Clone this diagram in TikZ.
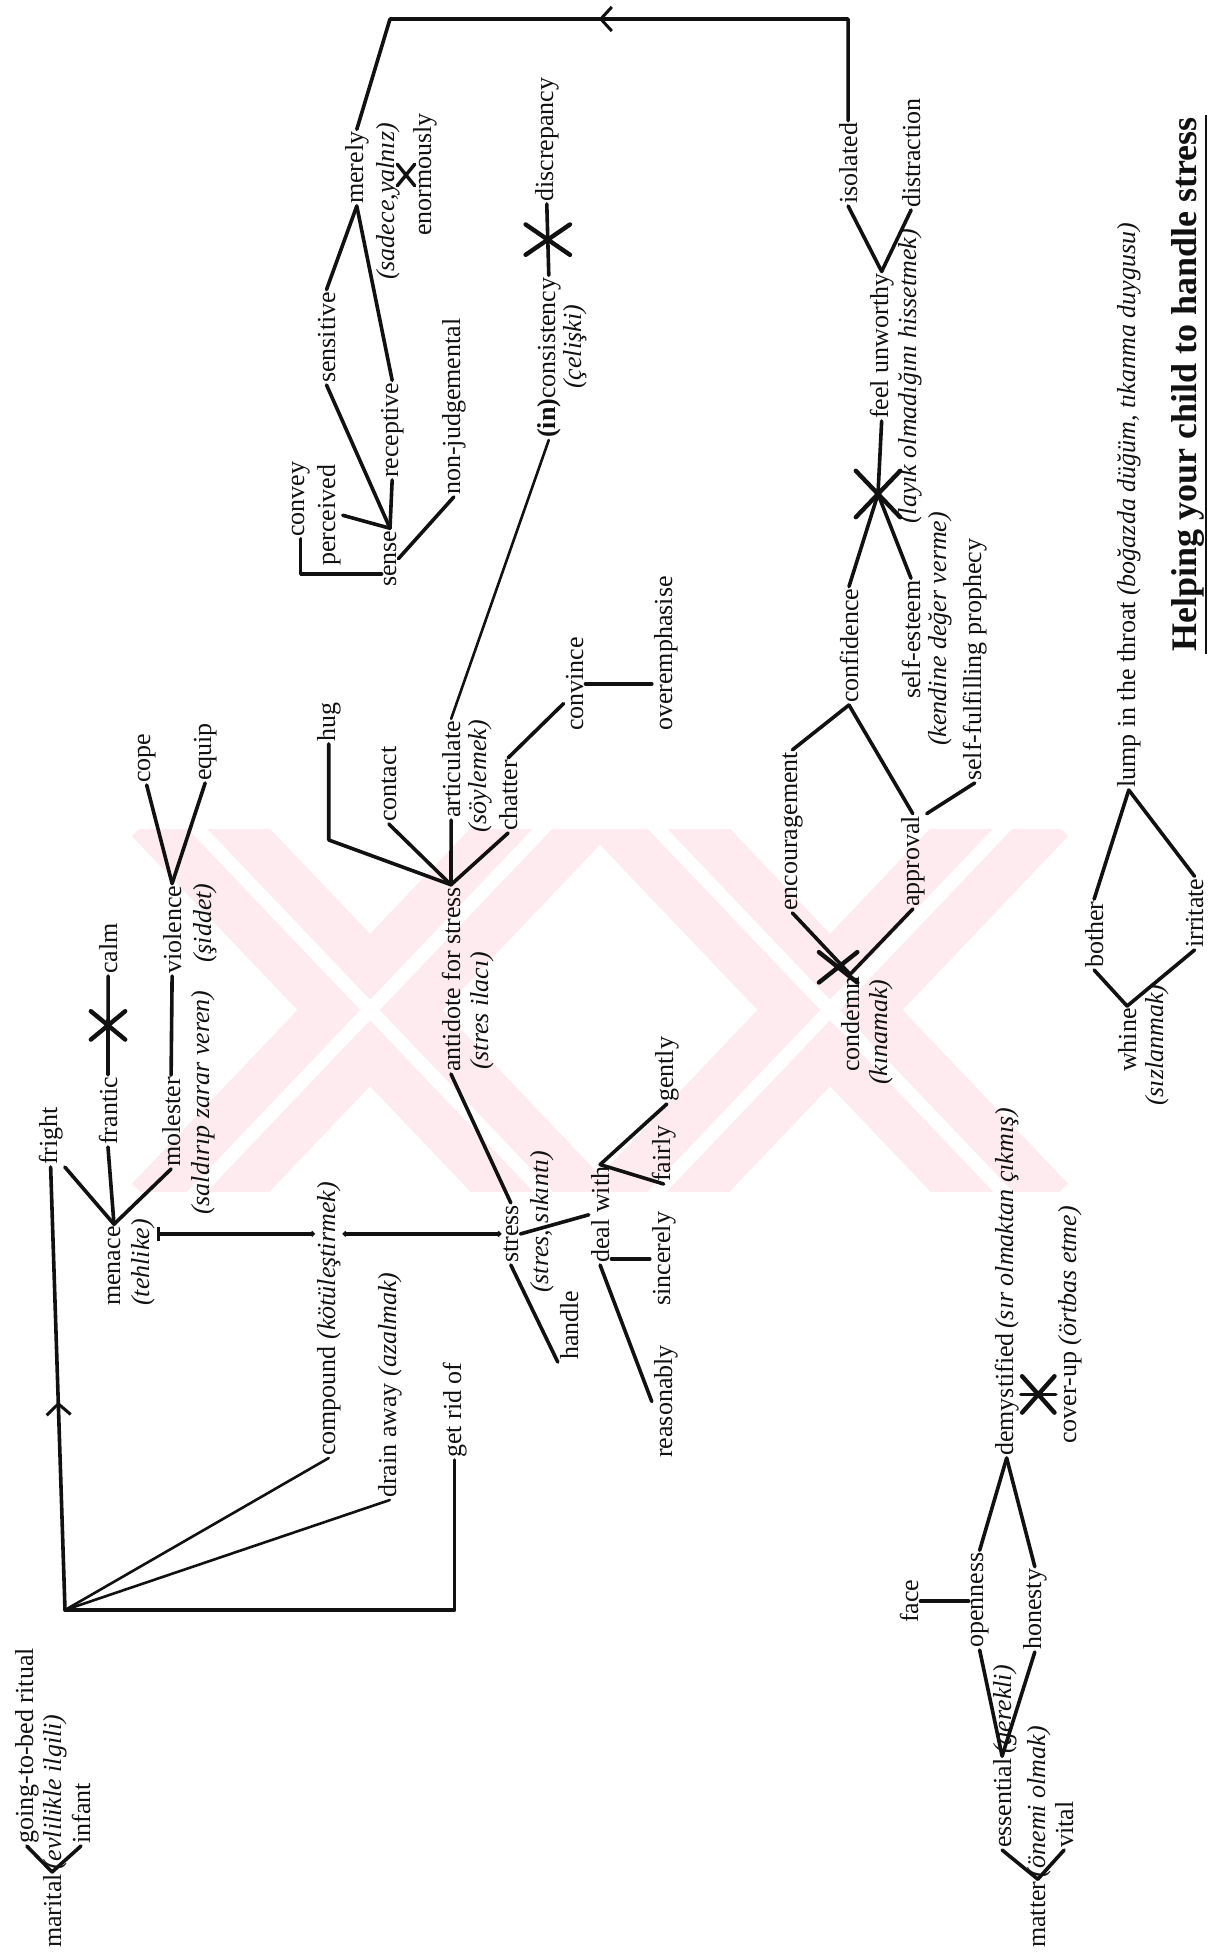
\documentclass[tikz,border=0pt]{standalone}
\usepackage{fontspec}
\setmainfont{Liberation Serif}
\usetikzlibrary{arrows.meta,positioning,calc,shapes.misc,decorations.markings}
\definecolor{ink}{HTML}{111111}
\definecolor{wmpink}{HTML}{FDEBEF}
\tikzset{
  lbl/.style={rotate=90,anchor=base west,inner sep=2pt,text=ink,
    font=\fontsize{26}{30}\selectfont},
  gloss/.style={lbl,font=\fontsize{26}{30}\selectfont\itshape},
  link/.style={draw=ink,line width=3.6pt,line cap=round,line join=round},
  thinlink/.style={link,line width=2.6pt},
  negx/.style={draw=ink,cross out,line width=4.4pt,inner sep=0pt,line cap=round},
  flowmark/.style={postaction={decorate},decoration={markings,
    mark=at position #1 with {\arrow{Straight Barb[length=11pt,width=24pt,line width=3pt]}}}},
}

\begin{document}
\begin{tikzpicture}[x=1pt,y=-1pt]
  \fill[white] (0,0) rectangle (1208,1953);
  \useasboundingbox (0,0) rectangle (1208,1953);
  % --- watermark ---
  \begin{scope}
    \clip (118,829) rectangle (1097,1191);
    \foreach \cx in {370,830} {
      \draw[wmpink,line width=105pt] (\cx-200,800) -- (\cx+200,1220);
      \draw[wmpink,line width=105pt] (\cx+200,800) -- (\cx-200,1220);
    }
    \foreach \cx in {370,830} {
      \draw[white,line width=14pt] (\cx-200,800) -- (\cx+200,1220);
      \draw[white,line width=14pt] (\cx+200,800) -- (\cx-200,1220);
    }
  \end{scope}
  % --- sense / merely ---
  \node[lbl] (merely) at (363,206) {merely};
  \node[gloss] (sadece) at (394,282) {(sadece,yalnız)};
  \node[lbl] (enormously) at (431,238) {enormously};
  \node[lbl] (sensitive) at (335,385) {sensitive};
  \node[lbl] (receptive) at (398,480) {receptive};
  \node[lbl] (convey) at (304,539) {convey};
  \node[lbl] (perceived) at (335,568) {perceived};
  \node[lbl] (sense) at (396,589) {sense};
  \node[lbl] (nonjudg) at (460,497) {non-judgemental};
  \node[lbl] (inconsistency) at (555,440) {{\bfseries(in)}consistency};
  \node[gloss] (celiski) at (581,391) {(çelişki)};
  \node[lbl] (discrepancy) at (553,204) {discrepancy};
  % --- confidence ---
  \node[lbl] (isolated) at (857,206) {isolated};
  \node[lbl] (distraction) at (920,210) {distraction};
  \node[lbl] (unworthy) at (888,421) {feel unworthy};
  \node[gloss] (layik) at (916,526) {(layık olmadığını hissetmek)};
  \node[lbl] (confidence) at (858,705) {confidence};
  \node[lbl] (selfesteem) at (920,701) {self-esteem};
  \node[gloss] (kendine) at (946,748) {(kendine değer verme)};
  \node[lbl] (selffulfil) at (981,783) {self-fulfilling prophecy};
  \node[lbl] (encouragement) at (797,913) {encouragement};
  \node[lbl] (approval) at (919,909) {approval};
  \node[lbl] (condemn) at (859,1074) {condemn};
  \node[gloss] (kinamak) at (887,1087) {(kınamak)};
  % --- lump / title ---
  \node[lbl] (lump) at (1135,790) {lump in the throat \textit{(boğazda düğüm, tıkanma duygusu)}};
  \node[lbl,font=\fontsize{36}{40}\selectfont\bfseries] (title) at (1196,654) {Helping your child to handle stress};
  \node[lbl] (bother) at (1103,970) {bother};
  \node[lbl] (irritate) at (1203,950) {irritate};
  \node[lbl] (whine) at (1136,1074) {whine};
  \node[gloss] (sizlanmak) at (1163,1108) {(sızlanmak)};
  % --- openness ---
  \node[lbl] (demyst) at (1013,1458) {demystified};
  \node[gloss] (demystgl) at (demyst.base east) {(sır olmaktan çıkmış)};
  \node[lbl] (coverup) at (1076,1446) {cover-up \textit{(örtbas etme)}};
  \node[lbl] (face) at (918,1625) {face};
  \node[lbl] (openness) at (983,1650) {openness};
  \node[lbl] (honesty) at (1041,1652) {honesty};
  \node[lbl] (essential) at (1011,1850) {essential};
  \node[gloss] (gerekli) at (essential.base east) {(gerekli)};
  \node[lbl] (matter) at (1045,1950) {matter};
  \node[gloss] (onemi) at (matter.base east) {(önemi olmak)};
  \node[lbl] (vital) at (1073,1850) {vital};
  % --- bottom left ---
  \node[lbl] (goingbed) at (33,1846) {going-to-bed ritual};
  \node[lbl] (marital) at (61,1950) {marital};
  \node[gloss] (evlilik) at (marital.base east) {(evlilikle ilgili)};
  \node[lbl] (infant) at (90,1846) {infant};
  \node[lbl] (compound) at (335,1458) {compound \textit{(kötüleştirmek)}};
  \node[lbl] (drainaway) at (396,1500) {drain away \textit{(azalmak)}};
  \node[lbl] (getridof) at (461,1460) {get rid of};
  % --- menace ---
  \node[lbl] (menace) at (120,1308) {menace};
  \node[gloss] (tehlike) at (149,1308) {(tehlike)};
  \node[lbl] (fright) at (57,1167) {fright};
  \node[lbl] (frantic) at (117,1147) {frantic};
  \node[lbl] (calm) at (117,976) {calm};
  \node[lbl] (molester) at (180,1169) {molester};
  \node[gloss] (saldirip) at (209,1217) {(saldırıp zarar veren)};
  \node[lbl] (violence) at (181,976) {violence};
  \node[gloss] (siddet) at (211,965) {(şiddet)};
  \node[lbl] (cope) at (150,785) {cope};
  \node[lbl] (equip) at (211,783) {equip};
  % --- antidote / stress ---
  \node[lbl] (hug) at (335,744) {hug};
  \node[lbl] (contact) at (396,824) {contact};
  \node[lbl] (articulate) at (460,820) {articulate};
  \node[gloss] (soylemek) at (486,835) {(söylemek)};
  \node[lbl] (chatter) at (517,833) {chatter};
  \node[lbl] (antidote) at (460,1074) {antidote for stress};
  \node[gloss] (ilaci) at (488,1072) {(stres ilacı)};
  \node[lbl] (convince) at (583,733) {convince};
  \node[lbl] (overemph) at (672,733) {overemphasise};
  \node[lbl] (stress) at (518,1265) {stress};
  \node[gloss] (sikinti) at (548,1295) {(stres, sıkıntı)};
  \node[lbl] (handle) at (578,1362) {handle};
  \node[lbl] (dealwith) at (609,1265) {deal with};
  \node[lbl] (gently) at (673,1104) {gently};
  \node[lbl] (fairly) at (670,1184) {fairly};
  \node[lbl] (sincerely) at (670,1308) {sincerely};
  \node[lbl] (reasonably) at (672,1460) {reasonably};

  % --- connectors ---
  \coordinate (topL) at (390,19);
  \coordinate (hub) at (65,1610);
  \draw[link,flowmark=0.52] (isolated.east) |- (topL) -- (merely.east);
  \draw[link,flowmark=0.47] (hub) -- (fright.west);
  \draw[thinlink] (hub) -- (compound.west);
  \draw[thinlink] (hub) -- (drainaway.west);
  \draw[link] (hub) -| (getridof.west);
  \foreach \a/\b in {merely.west/sensitive.east, merely.west/receptive.east,
      sensitive.west/sense.east, perceived.south/sense.east, receptive.west/sense.east,
      sense.south/nonjudg.west, isolated.west/unworthy.east, distraction.west/unworthy.east,
      encouragement.east/confidence.west, confidence.west/approval.east,
      approval.south east/selffulfil.west, encouragement.west/condemn.east,
      approval.west/condemn.east, lump.west/bother.east, lump.west/irritate.east,
      bother.west/whine.east, irritate.west/whine.east, demyst.west/openness.east,
      demyst.west/honesty.east, openness.west/essential.east, honesty.west/essential.east,
      essential.west/matter.east, vital.west/matter.east, goingbed.west/marital.east,
      infant.west/marital.east, menace.east/fright.south west, menace.east/frantic.west,
      menace.east/molester.west, molester.east/violence.west, violence.east/cope.west,
      violence.east/equip.west, contact.west/antidote.east, articulate.west/antidote.east,
      chatter.west/antidote.east, antidote.west/stress.east, stress.south/dealwith.north,
      stress.west/handle.north west, dealwith.east/gently.west, dealwith.east/fairly.west,
      dealwith.west/reasonably.north}
    \draw[link] (\a) -- (\b);
  \draw[link] (convey.west) |- ($(sense.north west)!0.5!(sense.north)$);
  \draw[thinlink] (inconsistency.west) -- (articulate.east);
  \draw[link] (hug.west) -- ++(0,96) -- (antidote.east);
  \draw[link] (chatter.east) -- ($(convince.north west)!0.6!(convince.north)$);
  \draw[link] (convince.south) -- (convince.south -| overemph.north);
  \draw[link] (dealwith.south |- sincerely.north) -- (sincerely.north);
  \draw[link] (face.south) -- (face.south -| openness.north);
  \draw[link,{Bar[width=14pt]}-{Circle[length=5pt]}] (tehlike.south |- stress.north) -- (compound.north |- stress.north);
  \draw[link,{Circle[length=5pt]}-{Circle[length=5pt]}] (compound.south |- stress.north) -- (stress.north);
  % --- opposites ---
  \draw[link] (inconsistency.east) -- node[negx,minimum width=40pt,minimum height=26pt] (star1) {} (discrepancy.west);
  \draw[link] (frantic.east) -- node[negx,minimum width=30pt,minimum height=24pt] (star3) {} (calm.west);
  \draw[link] (demyst.south) -- node[negx,minimum width=28pt,minimum height=32pt] (star2) {} (demyst.south -| coverup.north);
  \node[negx,minimum width=40pt,minimum height=42pt] (neg2) at (878,494) {};
  \draw[link] (unworthy.west) -- (neg2.center);
  \draw[link] (neg2.center) -- (confidence.east);
  \draw[link] (neg2.center) -- (selfesteem.east);
  \node[negx,minimum width=34pt,minimum height=26pt] (neg3) at ([xshift=-12pt,yshift=7pt]condemn.east) {};
  \node[negx,minimum width=14pt,minimum height=18pt,line width=3.4pt] (neg1) at (406,175) {};
  % --- title rule ---
  \draw[ink,line width=2.6pt] (title.south west) -- (title.south east);
\end{tikzpicture}
\end{document}
